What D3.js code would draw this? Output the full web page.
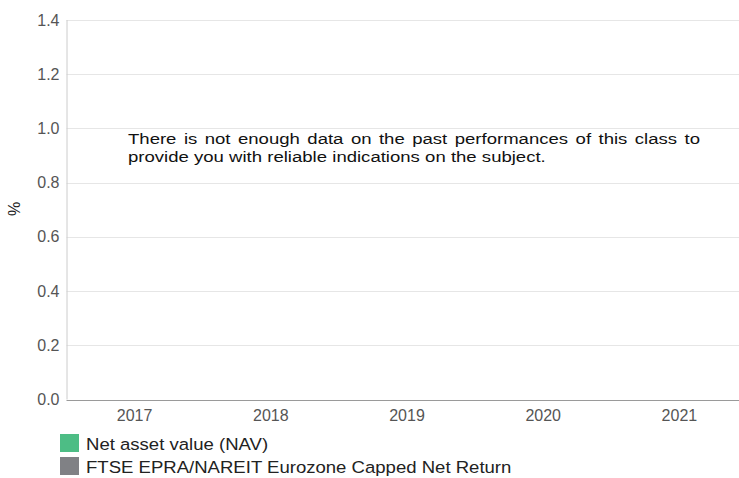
<!DOCTYPE html>
<html>
<head>
<meta charset="utf-8">
<script src="https://cdn.jsdelivr.net/npm/d3@7"></script>
<style>
  html, body { margin: 0; padding: 0; background: #fff; overflow: hidden; }
  svg { display: block; font-family: "Liberation Sans", Arial, Helvetica, sans-serif; }
</style>
</head>
<body>
<svg id="chart" width="739" height="478"></svg>
<script>
// ---- data ----
const categories = ["2017", "2018", "2019", "2020", "2021"];
const navValues = [null, null, null, null, null];
const benchmarkValues = [null, null, null, null, null];
const yTicks = [0, 0.2, 0.4, 0.6, 0.8, 1.0, 1.2, 1.4];
const seriesNames = ["Net asset value (NAV)", "FTSE EPRA/NAREIT Eurozone Capped Net Return"];
const seriesColors = ["#4dbd85", "#808185"];
const noDataLines = [
  "There is not enough data on the past performances of this class to",
  "provide you with reliable indications on the subject."
];
const yLabel = "%";

// ---- layout ----
const svg = d3.select("#chart");
const plot = { left: 66.5, right: 747.5, top: 20, bottom: 399.5 };
const bodySize = 17, stretch = 1.092;
const msgSize = 15.5, msgStretch = 1.197;

const x = d3.scaleBand().domain(categories).range([plot.left, plot.right]).paddingInner(0.2).paddingOuter(0.1);
const y = d3.scaleLinear().domain([0, 1.4]).range([plot.bottom, plot.top]);

// grid lines
svg.append("g").selectAll("line").data(yTicks.filter(d => d > 0)).join("line")
  .attr("x1", plot.left).attr("x2", plot.right)
  .attr("y1", d => Math.round(y(d)) + 0.5).attr("y2", d => Math.round(y(d)) + 0.5)
  .attr("stroke", "#e6e6e6").attr("stroke-width", 1);

// y axis line
svg.append("line")
  .attr("x1", plot.left + 0.5).attr("x2", plot.left + 0.5)
  .attr("y1", plot.top).attr("y2", plot.bottom)
  .attr("stroke", "#cccccc").attr("stroke-width", 1);

// y tick labels
const yAxis = d3.axisLeft(y).tickValues(yTicks).tickFormat(d3.format(".1f")).tickSize(0).tickPadding(7);
const yg = svg.append("g").attr("transform", `translate(${plot.left},0)`).call(yAxis);
yg.select(".domain").remove();
yg.selectAll("text").attr("font-size", 16).attr("fill", "#555555")
  .attr("font-family", "Liberation Sans, Arial, sans-serif");

// x axis
const xAxis = d3.axisBottom(x).tickSize(0).tickPadding(9);
const xg = svg.append("g").attr("transform", `translate(0,${Math.round(plot.bottom) + 0.5})`).call(xAxis);
xg.select(".domain").attr("stroke", "#9a9a9a").attr("d", `M${plot.left},0H${plot.right}`);
xg.selectAll("text").attr("font-size", 16).attr("fill", "#555555")
  .attr("font-family", "Liberation Sans, Arial, sans-serif");

// bars (no data)
const groups = [navValues, benchmarkValues];
const sub = d3.scaleBand().domain([0, 1]).range([0, x.bandwidth()]).padding(0.05);
groups.forEach((vals, si) => {
  svg.append("g").selectAll("rect")
    .data(vals.map((v, i) => ({ v, c: categories[i] })).filter(d => d.v !== null))
    .join("rect")
    .attr("x", d => x(d.c) + sub(si)).attr("width", sub.bandwidth())
    .attr("y", d => y(Math.max(0, d.v))).attr("height", d => Math.abs(y(d.v) - y(0)))
    .attr("fill", seriesColors[si]);
});

// y axis title
svg.append("text")
  .attr("transform", "translate(14.5,209) rotate(-90)")
  .attr("text-anchor", "middle").attr("dominant-baseline", "central")
  .attr("font-size", 16).attr("fill", "#222")
  .text(yLabel);

// no-data message: one text element, justified with per-word tspans
const msgLeft = 128, msgRight = 700, firstBaseline = 144.3, lineH = 17.4;
const msg = svg.append("text")
  .attr("transform", `scale(${msgStretch},1)`)
  .attr("font-size", msgSize).attr("fill", "#111");
const meas = svg.append("text").attr("font-size", msgSize).attr("visibility", "hidden");
function wordWidth(w) { meas.text(w); return meas.node().getComputedTextLength() * msgStretch; }
noDataLines.forEach((line, li) => {
  const words = line.split(" ");
  const base = firstBaseline + li * lineH;
  const widths = words.map(wordWidth);
  const total = d3.sum(widths);
  const isLast = li === noDataLines.length - 1;
  const spaceW = 0.278 * msgSize * msgStretch;
  const gap = isLast ? spaceW : (msgRight - msgLeft - total) / (words.length - 1);
  let cx = msgLeft;
  words.forEach((w, i) => {
    msg.append("tspan").attr("x", cx / msgStretch).attr("y", base).text(w);
    cx += widths[i] + gap;
  });
});
meas.remove();

// legend
const legend = svg.append("g");
seriesNames.forEach((name, i) => {
  const ly = 434 + i * 23;
  legend.append("rect").attr("x", 60).attr("y", ly).attr("width", 19).attr("height", 18)
    .attr("fill", seriesColors[i]);
  legend.append("text")
    .attr("transform", `translate(86,${ly + 16}) scale(${stretch},1)`)
    .attr("font-size", bodySize).attr("fill", "#222")
    .text(name);
});
</script>
</body>
</html>
